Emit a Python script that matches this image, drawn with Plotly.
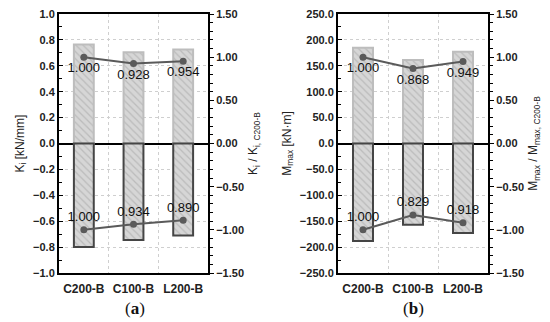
import plotly.graph_objects as go

categories = ["C200-B", "C100-B", "L200-B"]
xpos = [0, 1, 2]

ki_pos = [0.765, 0.705, 0.725]
ki_neg = [-0.80, -0.745, -0.71]
ki_ratio_pos = [1.000, 0.928, 0.954]
ki_ratio_neg = [1.000, 0.934, 0.890]

m_pos = [185.0, 161.0, 177.0]
m_neg = [-188.0, -157.0, -173.0]
m_ratio_pos = [1.000, 0.868, 0.949]
m_ratio_neg = [1.000, 0.829, 0.918]

W, H = 550, 322
FONT = "Liberation Sans, Arial, sans-serif"
pattern = dict(shape="\\", fgcolor="#a0a0a0", bgcolor="#d6d6d6", size=5, solidity=0.25)
LINEC = "#5a5a5a"

fig = go.Figure()

def add_panel(xa, ya, y2a, pos, neg, rpos, rneg):
    fig.add_trace(go.Bar(x=xpos, y=pos, width=0.4, xaxis=xa, yaxis=ya,
                         marker=dict(color="#d6d6d6", pattern=pattern,
                                     line=dict(color="#bdbdbd", width=2)),
                         showlegend=False, hoverinfo="skip"))
    fig.add_trace(go.Bar(x=xpos, y=neg, width=0.4, xaxis=xa, yaxis=ya,
                         marker=dict(color="#d6d6d6", pattern=pattern,
                                     line=dict(color="#454545", width=2)),
                         showlegend=False, hoverinfo="skip"))
    fig.add_trace(go.Scatter(x=xpos, y=rpos, xaxis=xa, yaxis=y2a, mode="lines+markers+text",
                             text=[f"{v:.3f}" for v in rpos], textposition="bottom center",
                             textfont=dict(family=FONT, size=13, color="#111"),
                             line=dict(color=LINEC, width=2), marker=dict(color=LINEC, size=7),
                             showlegend=False))
    fig.add_trace(go.Scatter(x=xpos, y=[-v for v in rneg], xaxis=xa, yaxis=y2a, mode="lines+markers+text",
                             text=[f"{v:.3f}" for v in rneg], textposition="top center",
                             textfont=dict(family=FONT, size=13, color="#111"),
                             line=dict(color=LINEC, width=2), marker=dict(color=LINEC, size=7),
                             showlegend=False))

add_panel("x", "y", "y2", ki_pos, ki_neg, ki_ratio_pos, ki_ratio_neg)
add_panel("x2", "y3", "y4", m_pos, m_neg, m_ratio_pos, m_ratio_neg)

ytop = 1 - 14 / H
ybot = 1 - 273 / H

def xaxis(dom, anchor):
    return dict(domain=dom, anchor=anchor, range=[-0.5, 2.5], tickvals=xpos, ticktext=categories,
                ticks="", showgrid=False, zeroline=False, automargin=False, ticklabelstandoff=4,
                showline=True, linecolor="black", linewidth=2, mirror=True,
                tickfont=dict(family=FONT, size=12, color="#222", weight="bold"),
                minor=dict(tickvals=[0.5, 1.5], showgrid=True, gridcolor="#cfcfcf", griddash="dot", gridwidth=1, ticks=""))

def yleft(anchor, rng, dtick, fmt, title, minor_dt):
    return dict(domain=[ybot, ytop], anchor=anchor, range=rng, dtick=dtick, tick0=0, tickformat=fmt,
                ticks="inside", ticklen=4, tickcolor="black", tickwidth=1, automargin=False,
                showgrid=True, gridcolor="#cfcfcf", griddash="dot", gridwidth=1,
                zeroline=True, zerolinecolor="black", zerolinewidth=2,
                showline=True, linecolor="black", linewidth=2,
                minor=dict(dtick=minor_dt, ticks="inside", ticklen=3, tickcolor="black", showgrid=False),
                tickfont=dict(family=FONT, size=11, color="#222", weight="bold"),
                title=dict(text=title, font=dict(family=FONT, size=12, color="#222"), standoff=6))

def yright(overlay, anchor, title):
    return dict(overlaying=overlay, anchor=anchor, side="right", range=[-1.5, 1.5], dtick=0.5, tick0=0,
                tickformat=".2f", ticks="outside", ticklen=4, tickcolor="black", tickwidth=1,
                showgrid=False, zeroline=False, showline=True, linecolor="black", linewidth=2,
                automargin=False,
                minor=dict(dtick=0.1, ticks="outside", ticklen=3, tickcolor="black", showgrid=False),
                tickfont=dict(family=FONT, size=11, color="#222", weight="bold"),
                title=dict(text=title, font=dict(family=FONT, size=12, color="#222"), standoff=6))

fig.update_layout(
    width=W, height=H, margin=dict(l=0, r=0, t=0, b=0, autoexpand=False),
    paper_bgcolor="white", plot_bgcolor="white", barmode="overlay",
    xaxis=xaxis([59 / W, 208 / W], "y"),
    yaxis=yleft("x", [-1, 1], 0.2, ".1f", "K<sub>i</sub> [kN/mm]", 0.1),
    yaxis2=yright("y", "x", "K<sub>i</sub> / K<sub>i, C200-B</sub>"),
    xaxis2=xaxis([338 / W, 488 / W], "y3"),
    yaxis3=yleft("x2", [-250, 250], 50, ".1f", "M<sub>max</sub> [kN·m]", 25),
    yaxis4=yright("y3", "x2", "M<sub>max</sub> / M<sub>max, C200-B</sub>"),
    annotations=[
        dict(text="(<b>a</b>)", x=135 / W, y=1 - 308 / H, xref="paper", yref="paper", showarrow=False,
             xanchor="center", yanchor="middle",
             font=dict(family="Liberation Serif, serif", size=17, color="#111")),
        dict(text="(<b>b</b>)", x=413 / W, y=1 - 308 / H, xref="paper", yref="paper", showarrow=False,
             xanchor="center", yanchor="middle",
             font=dict(family="Liberation Serif, serif", size=17, color="#111")),
    ],
)

fig.write_html("out.html", config={"displayModeBar": False},
               post_script="document.body.style.margin='0px';document.body.style.padding='0px';")
